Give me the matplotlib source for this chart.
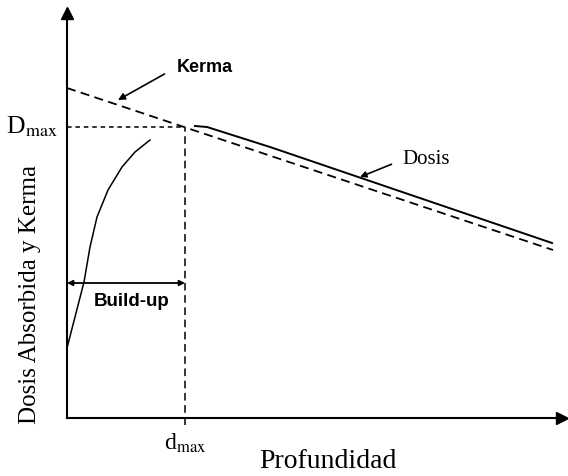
import matplotlib
matplotlib.use("Agg")
import matplotlib.pyplot as plt

# ---- data (arbitrary units) ----
kerma_depth = [0, 486]
kerma_value = [330, 168]

dose_buildup_depth = [0, 8, 17, 23, 30, 41, 55, 68, 83]
dose_buildup_value = [70, 101, 136, 171, 201, 228, 251, 266, 278]

dose_tail_depth = [128, 140, 203, 485]
dose_tail_value = [292, 291, 271, 175]

d_max = 118
D_max = 291
buildup_arrow_level = 135

plt.rcParams['font.family'] = ['Liberation Serif', 'DejaVu Serif']
plt.rcParams['mathtext.fontset'] = 'stix'

W, H = 568, 476
fig = plt.figure(figsize=(W / 100, H / 100), dpi=100)
ox, oy = 67, 418
xr, yr = 495, 405
ax = fig.add_axes([ox / W, (H - oy) / H, xr / W, yr / H])
ax.set_xlim(0, xr)
ax.set_ylim(0, yr)
ax.set_facecolor('white')
for s in ['top', 'right']:
    ax.spines[s].set_visible(False)
for s in ['left', 'bottom']:
    ax.spines[s].set_linewidth(1.5)
ax.set_xticks([])
ax.set_yticks([])

# axis arrowheads
ax.plot(1, 0, marker='>', color='k', markersize=9, transform=ax.transAxes, clip_on=False)
ax.plot(0, 1, marker='^', color='k', markersize=9, transform=ax.transAxes, clip_on=False)

# Kerma (dashed)
ax.plot(kerma_depth, kerma_value, color='k', lw=1.3, dashes=[5, 3])

# Dose (solid)
ax.plot(dose_buildup_depth, dose_buildup_value, color='k', lw=1.1)
ax.plot(dose_tail_depth, dose_tail_value, color='k', lw=1.4)

# Dmax guides
ax.plot([0, d_max], [D_max, D_max], color='k', lw=1.1, dashes=[3, 2.5])
ax.plot([d_max, d_max], [-7, D_max], color='k', lw=1.1, dashes=[5, 3], clip_on=False)

# Build-up double arrow
ax.annotate('', xy=(0, buildup_arrow_level), xytext=(d_max, buildup_arrow_level),
            arrowprops=dict(arrowstyle='<|-|>', color='k', lw=1.3,
                            mutation_scale=8, shrinkA=0, shrinkB=0))
ax.text(65, 116, 'Build-up', ha='center', va='center', fontsize=13.5,
        family=['Liberation Sans', 'DejaVu Sans'], weight='bold')

# Kerma annotation
ax.annotate('Kerma', xy=(51, 318), xytext=(110, 351), fontsize=13,
            family=['Liberation Sans', 'DejaVu Sans'], weight='bold',
            va='center', ha='left',
            arrowprops=dict(arrowstyle='-|>', color='k', lw=1.2, relpos=(0, 0.5),
                            mutation_scale=10, shrinkA=8, shrinkB=0))

# Dosis annotation
ax.annotate('Dosis', xy=(293, 241), xytext=(335, 258), fontsize=15,
            va='center', ha='left',
            arrowprops=dict(arrowstyle='-|>', color='k', lw=1.2, relpos=(0, 0.5),
                            mutation_scale=9, shrinkA=6, shrinkB=0))

# Labels
ax.text(-9, D_max, r'D$_{\mathrm{max}}$', ha='right', va='center', fontsize=18.5, clip_on=False)
ax.text(d_max, -25, r'd$_{\mathrm{max}}$', ha='center', va='center', fontsize=17, clip_on=False)
ax.text(261, -43, 'Profundidad', ha='center', va='center', fontsize=20, clip_on=False)
ax.text(-37, 123, 'Dosis Absorbida y Kerma', ha='center', va='center', rotation=90,
        fontsize=18, clip_on=False)

fig.savefig('out.png', dpi=100, facecolor='white')
